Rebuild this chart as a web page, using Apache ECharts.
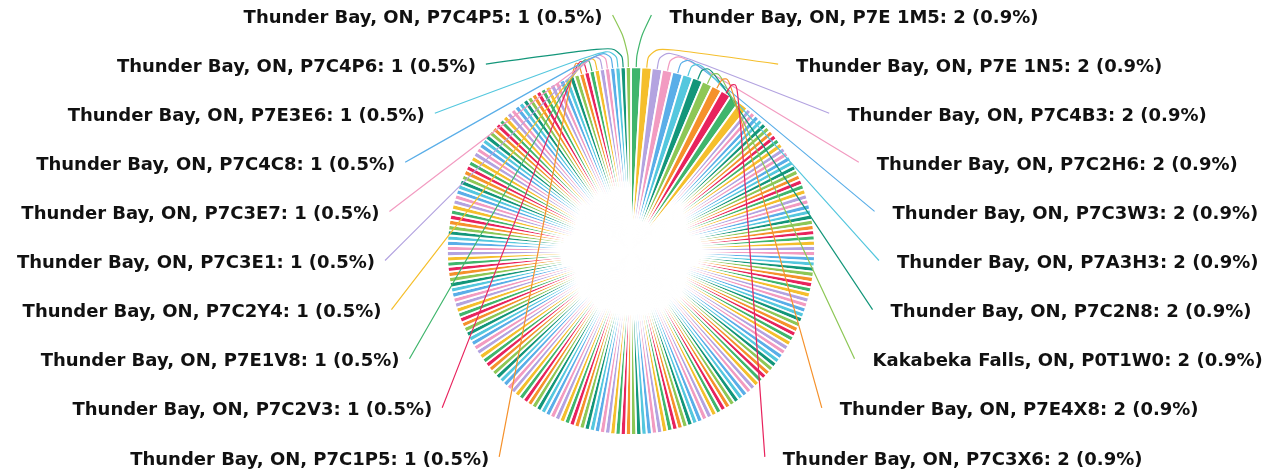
<!DOCTYPE html>
<html>
<head>
<meta charset="utf-8">
<script src="https://cdn.jsdelivr.net/npm/echarts@6/dist/echarts.min.js"></script>
<style>
html,body{margin:0;padding:0;background:#fff;}
#main{width:1285px;height:474px;}
</style>
</head>
<body>
<div id="main"></div>
<script>
'use strict'
// first slices, clockwise from the top (labelled on the right)
var firstNames=['Thunder Bay, ON, P7E 1M5','Thunder Bay, ON, P7E 1N5','Thunder Bay, ON, P7C4B3',
	'Thunder Bay, ON, P7C2H6','Thunder Bay, ON, P7C3W3','Thunder Bay, ON, P7A3H3',
	'Thunder Bay, ON, P7C2N8','Kakabeka Falls, ON, P0T1W0','Thunder Bay, ON, P7E4X8',
	'Thunder Bay, ON, P7C3X6'];
var firstValues=[2,2,2,2,2,2,2,2,2,2];

// slices in between, no label shown
var middleValues=[2,2,
	1,1,1,1,1,1,1,1,1,1,1,1,1,1,1,1,1,1,1,1,
	1,1,1,1,1,1,1,1,1,1,1,1,1,1,1,1,1,1,1,1,
	1,1,1,1,1,1,1,1,1,1,1,1,1,1,1,1,1,1,1,1,
	1,1,1,1,1,1,1,1,1,1,1,1,1,1,1,1,1,1,1,1,
	1,1,1,1,1,1,1,1,1,1,1,1,1,1,1,1,1,1,1,1,
	1,1,1,1,1,1,1,1,1,1,1,1,1,1,1,1,1,1,1,1,
	1,1,1,1,1,1,1,1,1,1,1,1,1,1,1,1,1,1,1,1,
	1,1,1,1,1,1,1,1,1,1,1,1,1,1,1,1,1,1,1,1,
	1,1,1,1,1,1,1,1,1,1,1,1,1,1,1,1,1,1,1,1,
	1,1,1,1,1,1];

// last slices (labelled on the left, the last one sits just left of the top)
var lastNames=['Thunder Bay, ON, P7C1P5','Thunder Bay, ON, P7C2V3','Thunder Bay, ON, P7E1V8',
	'Thunder Bay, ON, P7C2Y4','Thunder Bay, ON, P7C3E1','Thunder Bay, ON, P7C3E7',
	'Thunder Bay, ON, P7C4C8','Thunder Bay, ON, P7E3E6','Thunder Bay, ON, P7C4P6',
	'Thunder Bay, ON, P7C4P5'];
var lastValues=[1,1,1,1,1,1,1,1,1,1];

var colors=['#3fb56c','#f5bf2c','#b3a3e0','#f29bc1','#5aaee8','#54c7de','#13967a','#8dc756','#f5912b','#e8235d'];

window.onload=function (){
	var myChart=echarts.init(document.getElementById('main'));

	var names=[], values=[], shown=[];
	for(var i=0;i<firstValues.length;i++){names.push(firstNames[i]);values.push(firstValues[i]);shown.push(true);}
	for(var i=0;i<middleValues.length;i++){names.push('');values.push(middleValues[i]);shown.push(false);}
	for(var i=0;i<lastValues.length;i++){names.push(lastNames[i]);values.push(lastValues[i]);shown.push(true);}
	var n=values.length;
	var total=0;
	for(var i=0;i<n;i++) total+=values[i];

	// sectors
	var sliceData=[];
	// same slices again, see-through, only carrying labels + lines so the lines sit on top
	var labelData=[];
	for(var i=0;i<n;i++){
		sliceData.push({name:names[i],value:values[i]});
		labelData.push({
			name:names[i],value:values[i],
			itemStyle:{color:'rgba(255,255,255,0)'},
			label:{show:shown[i]},
			labelLine:{show:shown[i],lineStyle:{color:colors[i%colors.length]}}
		});
	}

	var cx=631, cy=251, R=184;
	// labels sit on an ellipse round the pie
	var ex=636, ey=259, ea=261, eb=243;
	var rowTop=18, rowGap=49.1;

	function layout(params){
		var idx=params.dataIndex;
		var row,right;
		if(idx<firstNames.length){row=idx;right=true;}
		else if(idx>=n-lastNames.length){row=n-1-idx;right=false;}
		else return {};
		var y=rowTop+row*rowGap;
		var k=(y-ey)/eb;
		var dx=ea*Math.sqrt(Math.max(0,1-k*k));
		var x=right?ex+dx:ex-dx;
		var p0=params.labelLinePoints?params.labelLinePoints[0].slice():[cx,cy-R];
		var vx=p0[0]-cx, vy=p0[1]-cy;
		var len=Math.sqrt(vx*vx+vy*vy)||1;
		var p1=[p0[0]+vx/len*22,p0[1]+vy/len*22];
		var p2=right?[x-18,y-3]:[x+10,y-3];
		return {
			x:x,y:y,
			align:right?'left':'right',
			verticalAlign:'middle',
			labelLinePoints:[p0,p1,p2]
		};
	}

	var option={
		animation:false,
		color:colors,
		series:[{
			type:'pie',
			z:2,
			center:[cx,cy],
			radius:[0,R],
			startAngle:90,
			clockwise:true,
			silent:true,
			itemStyle:{borderColor:'#fff',borderWidth:1.8},
			label:{show:false},
			labelLine:{show:false},
			data:sliceData
		},{
			type:'pie',
			z:5,
			center:[cx,cy],
			radius:[0,R],
			startAngle:90,
			clockwise:true,
			silent:true,
			avoidLabelOverlap:false,
			itemStyle:{borderWidth:0},
			label:{
				fontFamily:'DejaVu Sans',
				fontWeight:'bold',
				fontSize:18,
				color:'#111',
				formatter:function (p){
					return p.name+': '+p.value+' ('+(p.value/total*100).toFixed(1)+'%)';
				}
			},
			labelLine:{length:22,length2:10,smooth:0.5,lineStyle:{width:1.2}},
			labelLayout:layout,
			data:labelData
		}]
	};
	myChart.setOption(option);
};
</script>
</body>
</html>
